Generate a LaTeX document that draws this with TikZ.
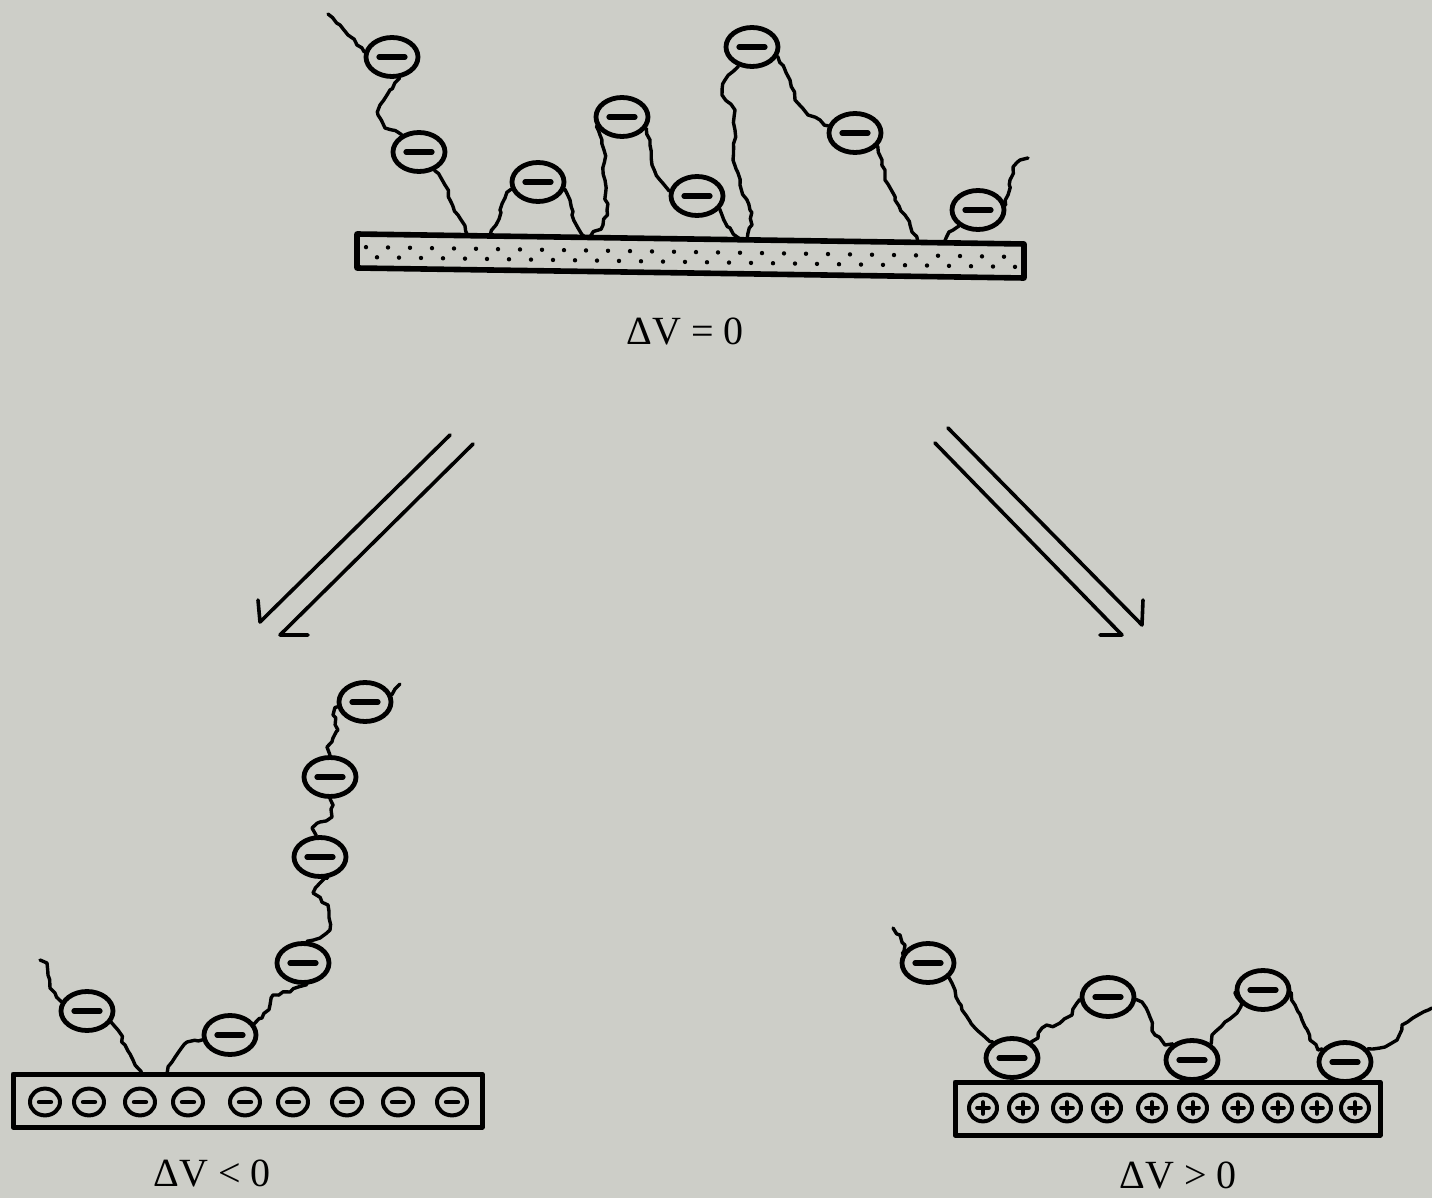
\documentclass[tikz,border=0pt]{standalone}
\usepackage{fontspec}
\setmainfont{Liberation Serif}
\usetikzlibrary{shapes.geometric,decorations.pathmorphing}

\definecolor{bggray}{RGB}{205,206,200}

\begin{document}
\begin{tikzpicture}[x=0.5pt, y=-0.5pt, line cap=round, line join=round,
    every node/.style={font=\fontsize{20}{24}\selectfont},
    bead/.style={draw, ellipse, line width=2.4pt, minimum width=26pt, minimum height=19.5pt, inner sep=0pt,
      path picture={\draw[line width=2.6pt] ([xshift=-6.5pt]path picture bounding box.center) -- ([xshift=6.5pt]path picture bounding box.center);}},
    chain/.style={line width=1.7pt, decorate, decoration={random steps, segment length=3pt, amplitude=0.9pt}},
    surface/.style={draw, line width=2.8pt},
    arrowline/.style={line width=1.8pt}]
	\pgfmathsetseed{7}
	\useasboundingbox (0,0) rectangle (1432,1198);
	\fill[bggray] (0,0) rectangle (1432,1198);

	% neutral electrode, dotted
	\draw[surface] (357,234) -- (1024,244) -- (1024,278) -- (357,268) -- cycle;
	\foreach \k in {0,...,59} {
		\pgfmathsetmacro{\dx}{366+11*\k}
		\pgfmathsetmacro{\dy}{247+10*mod(\k,2)+0.015*(9+11*\k)}
		\fill (\dx,\dy) circle (1.1pt);
	}

	\node[bead] (t1) at (392,57) {};
	\node[bead] (t2) at (419,152) {};
	\node[bead] (t3) at (538,182) {};
	\node[bead] (t4) at (622,117) {};
	\node[bead] (t5) at (697,196) {};
	\node[bead] (t6) at (752,47) {};
	\node[bead] (t7) at (855,133) {};
	\node[bead] (t8) at (978,210) {};

	\draw[chain] (328,14) -- (340,25) -- (348,35) -- (357,45) -- (t1.170);
	\draw[chain] (t1.-70) -- (390,90) -- (380,105) -- (378,115) -- (385,128) -- (t2.135);
	\draw[chain] (t2.-50) -- (445,185) -- (450,200) -- (458,215) -- (468,236);
	\draw[chain] (490,236) -- (496,225) -- (500,210) -- (505,198) -- (t3.195);
	\draw[chain] (t3.-15) -- (570,200) -- (572,215) -- (578,228) -- (585,237);
	\draw[chain] (590,237) -- (603,225) -- (607,210) -- (605,180) -- (604,150) -- (600,135) -- (t4.200);
	\draw[chain] (t4.-25) -- (650,140) -- (652,165) -- (660,180) -- (t5.170);
	\draw[chain] (t5.-30) -- (722,215) -- (730,228) -- (740,239);
	\draw[chain] (747,240) -- (752,225) -- (750,210) -- (740,185) -- (733,160) -- (735,130) -- (735,110) -- (722,95) -- (725,80) -- (t6.235);
	\draw[chain] (t6.-20) -- (790,80) -- (795,100) -- (808,115) -- (820,120) -- (t7.165);
	\draw[chain] (t7.-30) -- (882,160) -- (885,180) -- (895,200) -- (905,215) -- (912,232) -- (918,242);
	\draw[chain] (944,243) -- (949,232) -- (t8.220);
	\draw[chain] (t8.10) -- (1008,195) -- (1010,180) -- (1013,167) -- (1020,160) -- (1028,158);

	\node (dv0) at (685,332) {ΔV = 0};

	% double arrows
	\draw[arrowline] (450,435) -- (260,622) -- (258,600);
	\draw[arrowline] (473,444) -- (280,635) -- (308,635);
	\draw[arrowline] (948,428) -- (1142,625) -- (1143,600);
	\draw[arrowline] (935,443) -- (1122,635) -- (1100,635);

	% negative electrode
	\draw[surface, line width=2.5pt] (13,1074) rectangle (482,1127);
	\foreach \x in {45,89,140,188,245,293,347,398,452} {
		\draw[line width=2pt] (\x,1102) ellipse [x radius=7.5pt, y radius=6.7pt];
		\draw[line width=2.2pt] (\x-6,1102) -- (\x+6,1102);
	}

	\node[bead] (l1) at (87,1011) {};
	\node[bead] (l2) at (230,1035) {};
	\node[bead] (l3) at (303,963) {};
	\node[bead] (l4) at (320,857) {};
	\node[bead] (l5) at (330,777) {};
	\node[bead] (l6) at (365,702) {};

	\draw[chain] (40,960) -- (47,963) -- (48,975) -- (50,988) -- (55,993) -- (l1.160);
	\draw[chain] (l1.-25) -- (118,1030) -- (125,1045) -- (133,1060) -- (142,1074);
	\draw[chain] (167,1074) -- (172,1062) -- (180,1050) -- (187,1042) -- (l2.190);
	\draw[chain] (l2.25) -- (262,1018) -- (270,1005) -- (273,995) -- (290,992) -- (l3.-80);
	\draw[chain] (l3.80) -- (320,938) -- (330,930) -- (328,905) -- (313,893) -- (320,883) -- (l4.-70);
	\draw[chain] (l4.100) -- (312,828) -- (320,822) -- (332,817) -- (333,805) -- (l5.-90);
	\draw[chain] (l5.90) -- (327,747) -- (333,738) -- (338,730) -- (333,715) -- (l6.190);
	\draw[chain] (l6.15) -- (395,689) -- (400,684);

	\node (dvneg) at (212,1173) {ΔV < 0};

	% positive electrode
	\draw[surface, line width=2.5pt] (955,1082) rectangle (1380,1135);
	\foreach \x in {983,1023,1067,1107,1152,1193,1238,1278,1317,1355} {
		\draw[line width=2pt] (\x,1108) ellipse [x radius=7pt, y radius=6.7pt];
		\draw[line width=1.8pt] (\x-6,1108) -- (\x+6,1108) (\x,1102) -- (\x,1114);
	}

	\node[bead] (r1) at (928,963) {};
	\node[bead] (r2) at (1012,1058) {};
	\node[bead] (r3) at (1108,997) {};
	\node[bead] (r4) at (1192,1060) {};
	\node[bead] (r5) at (1263,990) {};
	\node[bead] (r6) at (1345,1062) {};

	\draw[chain] (893,928) -- (900,935) -- (905,945) -- (r1.160);
	\draw[chain] (r1.-35) -- (955,990) -- (962,1010) -- (975,1028) -- (985,1037) -- (r2.140);
	\draw[chain] (r2.40) -- (1038,1038) -- (1042,1028) -- (1060,1023) -- (1072,1015) -- (1077,1003) -- (r3.185);
	\draw[chain] (r3.-5) -- (1142,1002) -- (1148,1012) -- (1155,1035) -- (1165,1045) -- (r4.140);
	\draw[chain] (r4.40) -- (1212,1035) -- (1225,1022) -- (1237,1013) -- (1242,1003) -- (r5.185);
	\draw[chain] (r5.-5) -- (1295,1005) -- (1302,1020) -- (1310,1040) -- (1318,1050) -- (r6.150);
	\draw[chain] (r6.30) -- (1385,1047) -- (1397,1040) -- (1402,1025) -- (1418,1015) -- (1432,1008);

	\node (dvpos) at (1178,1175) {ΔV > 0};
\end{tikzpicture}
\end{document}
